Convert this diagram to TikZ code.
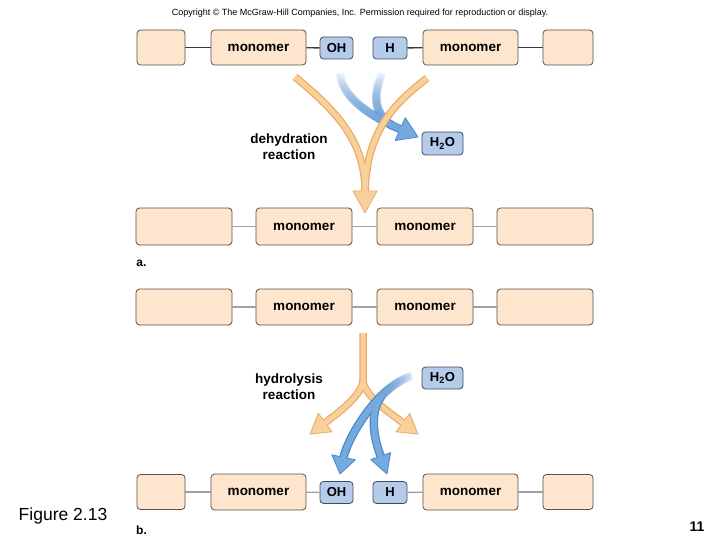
\documentclass[tikz,border=0pt]{standalone}
\usepackage{fontspec}
\setmainfont{Liberation Sans}
\usetikzlibrary{arrows.meta,calc,fadings}
\definecolor{peach}{HTML}{FDE6CD}
\definecolor{peachedge}{HTML}{5B5145}
\definecolor{bluebox}{HTML}{B4CCEA}
\definecolor{blueedge}{HTML}{3E4C5E}
\definecolor{ofill}{HTML}{FAD09A}
\definecolor{oedge}{HTML}{E8AC66}
\definecolor{bfill}{HTML}{74AADF}
\definecolor{bedge}{HTML}{4F88C6}
\definecolor{darkline}{HTML}{3A3A3A}
\definecolor{greyline}{HTML}{A0A0A0}
\tikzfading[name=fadetop, top color=transparent!100, middle color=transparent!0, bottom color=transparent!0]
\tikzfading[name=faderight, left color=transparent!0, right color=transparent!100]
\newcommand\myhead[5]{\filldraw[fill=#4,draw=#5,line width=0.8pt,line join=round] (#2) -- ($(#1)!#3!90:(#2)$) -- ($(#1)!#3!-90:(#2)$) -- cycle;}
\begin{document}
\begin{tikzpicture}[x=1pt,y=-1pt,
  pbox/.style={draw=peachedge, fill=peach, rounded corners=3.5pt, line width=0.8pt, inner sep=0pt,
    font=\fontsize{13.5}{15}\selectfont\bfseries},
  bbox/.style={draw=blueedge, fill=bluebox, rounded corners=3.5pt, line width=0.8pt, inner sep=0pt,
    minimum height=22pt, font=\fontsize{13}{15}\selectfont\bfseries},
  small/.style={minimum width=48pt, minimum height=35pt},
  mono/.style={minimum width=95pt, minimum height=35pt},
  wide/.style={minimum width=96pt, minimum height=37pt},
  dline/.style={draw=darkline, line width=1.3pt},
  gline/.style={draw=greyline, line width=1.3pt},
  oedgeS/.style={draw=oedge, line width=7.5pt},
  ofillS/.style={draw=ofill, line width=5pt},
  bedgeS/.style={draw=bedge, line width=8.5pt},
  bfillS/.style={draw=bfill, line width=6pt},
  lbl/.style={font=\fontsize{13.5}{16}\selectfont\bfseries, align=center},
]
\path[use as bounding box] (0,0) rectangle (720,540);

\node[font=\fontsize{9}{10}\selectfont] (copy) at (360,13) {Copyright \textcopyright{} The McGraw-Hill Companies, Inc. Permission required for reproduction or display.};

% ---- top row (a) ----
\node[pbox, small] (t1) at (161,47.5) {};
\node[pbox, mono] (t2) at (258.5,47.5) {monomer};
\node[bbox, minimum width=33pt] (tOH) at (336.5,48) {OH};
\node[bbox, minimum width=34pt] (tH) at (390,48) {H};
\node[pbox, mono] (t3) at (470.5,47.5) {monomer};
\node[pbox, small, minimum width=50pt] (t4) at (568,47.5) {};
\draw[dline] (t1) -- (t2);
\draw[dline] (t2) -- (tOH);
\draw[dline] (tH) -- (t3);
\draw[dline] (t3) -- (t4);

\node[bbox, minimum width=41pt, minimum height=23pt] (tW) at (442.5,143.5) {H\textsubscript{2}O};
\node[lbl] (dehyd) at (289,147) {dehydration\\reaction};

% blue arrows (top)
\coordinate (b1s) at (340,73);
\coordinate (b2s) at (382,73);
\coordinate (b1b) at (400.2,129.1);
\coordinate (b1t) at (418,137);
\draw[bedgeS, path fading=fadetop] (b1s) .. controls (342,102) and (382,121) .. (b1b);
\draw[bedgeS, path fading=fadetop] (b2s) .. controls (372,98) and (375,115) .. (393,126);
\myhead{b1b}{b1t}{12.5pt}{bfill}{bedge}
\draw[bfillS, path fading=fadetop] (b1s) .. controls (342,102) and (382,121) .. (b1b) -- ($(b1b)!2.5pt!(b1t)$);
\draw[bfillS, path fading=fadetop] (b2s) .. controls (372,98) and (375,115) .. (393,126);

% orange arrows (top)
\coordinate (oL) at (295,77);
\coordinate (oR) at (427,78);
\coordinate (oB) at (365,191);
\coordinate (oT) at (365,213);
\draw[oedgeS] (oL) .. controls (335,110) and (365,140) .. (oB);
\draw[oedgeS] (oR) .. controls (400,100) and (367,125) .. (oB);
\myhead{oB}{oT}{12pt}{ofill}{oedge}
\draw[ofillS] (oL) .. controls (335,110) and (365,140) .. (oB) -- (365,193.5);
\draw[ofillS] (oR) .. controls (400,100) and (367,125) .. (oB) -- (365,193.5);

% ---- second row (a) ----
\node[pbox, wide] (a1) at (184,226.5) {};
\node[pbox, wide] (a2) at (304,226.5) {monomer};
\node[pbox, wide] (a3) at (425,226.5) {monomer};
\node[pbox, wide] (a4) at (545,226.5) {};
\draw[gline] (a1) -- (a2);
\draw[gline] (a2) -- (a3);
\draw[gline] (a3) -- (a4);
\node[font=\fontsize{12}{14}\selectfont\bfseries] (la) at (141.5,263) {a.};

% ---- third row (b) ----
\node[pbox, wide, minimum height=36pt] (c1) at (184,307) {};
\node[pbox, wide, minimum height=36pt] (c2) at (304,307) {monomer};
\node[pbox, wide, minimum height=36pt] (c3) at (425,307) {monomer};
\node[pbox, wide, minimum height=36pt] (c4) at (545,307) {};
\draw[gline] (c1) -- (c2);
\draw[gline] (c2) -- (c3);
\draw[gline] (c3) -- (c4);

\node[lbl] (hydro) at (289,386.5) {hydrolysis\\reaction};
\node[bbox, minimum width=41pt] (bW) at (442.5,378) {H\textsubscript{2}O};

% orange arrows (bottom)
\coordinate (os) at (363,333);
\coordinate (osp) at (363,380);
\coordinate (oLb) at (325.2,422.6);
\coordinate (oLt) at (310,434);
\coordinate (oRb) at (402.8,422.6);
\coordinate (oRt) at (418,434);
\draw[oedgeS] (os) -- (osp) .. controls (363,395) and (336.4,414.2) .. (oLb);
\draw[oedgeS] (osp) .. controls (363,395) and (391.6,414.2) .. (oRb);
\myhead{oLb}{oLt}{11.5pt}{ofill}{oedge}
\myhead{oRb}{oRt}{11.5pt}{ofill}{oedge}
\draw[ofillS] (os) -- (osp) .. controls (363,395) and (336.4,414.2) .. (oLb) -- ($(oLb)!2.5pt!(oLt)$);
\draw[ofillS] (osp) .. controls (363,395) and (391.6,414.2) .. (oRb) -- ($(oRb)!2.5pt!(oRt)$);

% blue arrows (bottom)
\coordinate (bs) at (412,376);
\coordinate (bAm) at (383.06,394.12);
\coordinate (bAb) at (343.6,457.3);
\coordinate (bAt) at (340,474);
\coordinate (bBs) at (381,397);
\coordinate (bBb) at (380.7,456.1);
\coordinate (bBt) at (387,474);
\draw[bedgeS, path fading=faderight] (bs) .. controls (401.8,379) and (391.96,385.69) .. (bAm);
\draw[bedgeS] (bAm) .. controls (362.3,413.8) and (346.68,443.09) .. (bAb);
\draw[bedgeS] (bBs) .. controls (368,415) and (375.5,443) .. (bBb);
\myhead{bAb}{bAt}{12pt}{bfill}{bedge}
\myhead{bBb}{bBt}{10.5pt}{bfill}{bedge}
\draw[bfillS, path fading=faderight] (bs) .. controls (401.8,379) and (391.96,385.69) .. (bAm);
\draw[bfillS] (bAm) .. controls (362.3,413.8) and (346.68,443.09) .. (bAb) -- ($(bAb)!2.5pt!(bAt)$);
\draw[bfillS] (bBs) .. controls (368,415) and (375.5,443) .. (bBb) -- ($(bBb)!2.5pt!(bBt)$);

% ---- bottom row (b) ----
\node[pbox, small] (d1) at (161,492) {};
\node[pbox, mono, minimum height=36pt] (d2) at (258.5,492) {monomer};
\node[bbox, minimum width=33pt] (dOH) at (336.5,492.5) {OH};
\node[bbox, minimum width=34pt] (dH) at (390,492.5) {H};
\node[pbox, mono, minimum height=36pt] (d3) at (470.5,492) {monomer};
\node[pbox, small, minimum width=50pt] (d4) at (568,492) {};
\draw[gline] (d1) -- (d2);
\draw[gline] (d2) -- (dOH);
\draw[gline] (dH) -- (d3);
\draw[gline] (d3) -- (d4);

\node[font=\fontsize{12}{14}\selectfont\bfseries] (lb) at (141.5,530) {b.};
\node[font=\fontsize{17.5}{20}\selectfont] (fig) at (63,516) {Figure 2.13};
\node[font=\fontsize{14}{16}\selectfont\bfseries] (pg) at (697,527) {11};
\end{tikzpicture}
\end{document}
